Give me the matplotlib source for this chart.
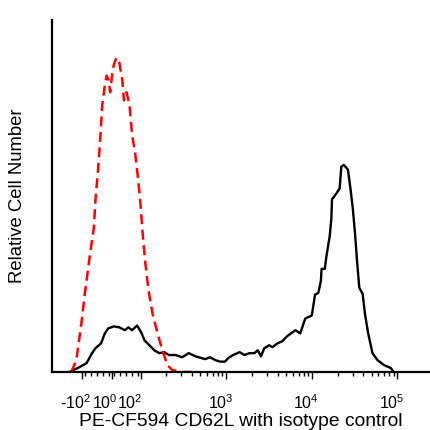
import matplotlib
matplotlib.use('Agg')
import matplotlib.pyplot as plt
import matplotlib.transforms as mtransforms
import numpy as np

# isotype control (red dashed), fluorescence value vs relative count
iso_x = [-135, -118, -103, -92, -74, -61, -55, -46, -38, -32, -23, -17, -11, -4.5,
         2, 8, 17, 27, 37, 43, 52, 62, 71, 81, 90, 99, 106, 114, 124, 138, 158,
         180, 206, 235, 294, 417]
iso_y = [0, 3.8, 15.5, 24.9, 37.5, 45.7, 55.2, 64.7, 75.4, 84.9, 91.2, 94.3, 93.1, 89,
         94.6, 97.8, 100, 98.4, 93.1, 86.4, 89, 84.9, 75.4, 70, 62.8, 54.3, 43.9, 34.4,
         25.9, 18.6, 12.3, 6.9, 2.2, 0.6, 0, 0]

# CD62L stained sample (black solid)
cd62l_x = [-141, -113, -86, -67, -55, -36, -23, -11, 8, 27, 46, 58, 71, 88, 102, 111,
           127, 145, 165, 189, 215, 257, 306, 366, 437, 520, 569, 649, 742, 847, 966,
           1055, 1204, 1436, 1640, 1874, 2140, 2340, 2550, 2790, 3180, 3470, 3960,
           4520, 5150, 5730, 6430, 7330, 8380, 10000, 10910, 11930, 12770, 13000,
           14180, 14830, 16180, 16920, 17200, 19360, 21140, 22100, 23700, 26400,
           28260, 30100, 32000, 33760, 35860, 39200, 41700, 45500, 51100, 58400,
           69600, 83200, 90900]
cd62l_y = [0, 1.3, 2.8, 6, 7.6, 9.1, 12.3, 13.9, 14.5, 14.2, 13.3, 14.2, 13.3, 14.8,
           12.6, 10.1, 8.5, 6.9, 6, 6.3, 5.4, 5.4, 4.7, 6, 5, 4.4, 4.1, 4.7, 3.8, 3.3,
           3.3, 4.4, 5.4, 6.3, 5.4, 6, 6, 6.9, 5, 7.6, 8.5, 7.9, 9.1, 9.8, 11.4, 12.3,
           13.3, 12.3, 17, 18, 24.6, 25.2, 29, 32.8, 32.8, 36.9, 43.2, 48.9, 54.9,
           56.8, 58.4, 65.3, 65.9, 64.4, 58.4, 52.1, 43.9, 35.3, 26.8, 24.9, 18.6,
           12.3, 6, 3.8, 2.2, 1.3, 0]

tick_vals = [-100, 1, 100, 1000, 10000, 100000]
tick_labels = ['-$10^{2}$', '$10^{0}$', '$10^{2}$', '$10^{3}$', '$10^{4}$', '$10^{5}$']

plt.rcParams['font.family'] = ['Liberation Sans', 'DejaVu Sans']
plt.rcParams['mathtext.fontset'] = 'custom'
plt.rcParams['mathtext.rm'] = 'Liberation Sans'
plt.rcParams['mathtext.it'] = 'Liberation Sans:italic'
plt.rcParams['mathtext.bf'] = 'Liberation Sans:bold'

fig = plt.figure(figsize=(4.3, 4.3), dpi=100)
ax = fig.add_axes([52 / 430, 58 / 430, 378 / 430, 352 / 430])

ax.set_xscale('symlog', linthresh=100, linscale=0.305)
ax.plot(cd62l_x, cd62l_y, color='black', lw=1.7)
ax.plot(iso_x, iso_y, color='#ff0000', lw=1.8, ls=(0, (4, 2.2)))

ax.set_xlim(-227, 240000)
ax.set_ylim(0, 112)

minor = [-90, -70, -50, -30, -10, 10, 30, 50, 70, 90]
for k in (2, 3, 4):
    minor += [m * 10 ** k for m in range(2, 10)]
ax.set_xticks(tick_vals)
ax.set_xticklabels(tick_labels)
ax.set_xticks(minor, minor=True)
ax.tick_params(axis='x', which='major', length=5, width=1, labelsize=11.5, pad=10)
ax.tick_params(axis='x', which='minor', length=3, width=1)
ax.set_yticks([])

# labels sit a little left of their ticks in the original
shifts = [-7, -7, -11, -5, -6, -6]
for lab, dx in zip(ax.get_xticklabels(), shifts):
    off = mtransforms.ScaledTranslation(dx / 100, 0, fig.dpi_scale_trans)
    lab.set_transform(lab.get_transform() + off)

for side in ('top', 'right'):
    ax.spines[side].set_visible(False)
for side in ('left', 'bottom'):
    ax.spines[side].set_linewidth(1.6)

ax.set_xlabel('PE-CF594 CD62L with isotype control', fontsize=13.9, va='baseline')
ax.xaxis.set_label_coords(0.5, (372 - 426) / 352)
ax.set_ylabel('Relative Cell Number', fontsize=13.3, va='center')
ax.yaxis.set_label_coords((18 - 52) / 378, 0.5)

fig.savefig('out.png', dpi=100)
